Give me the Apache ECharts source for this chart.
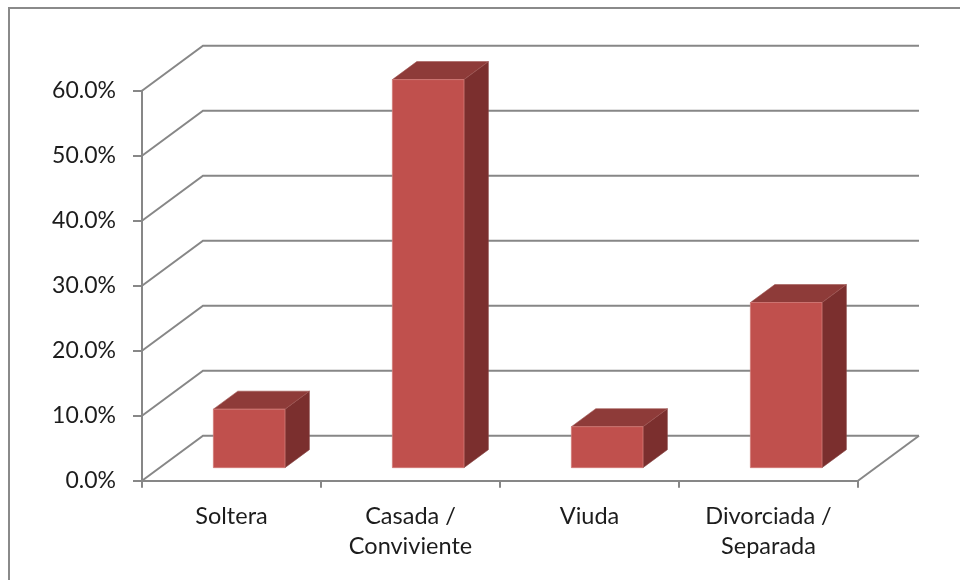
<!DOCTYPE html>
<html>
<head>
<meta charset="utf-8">
<script src="https://cdn.jsdelivr.net/npm/echarts@6/dist/echarts.min.js"></script>
<style>
  html, body { margin: 0; padding: 0; background: #fff; }
  #chart { width: 960px; height: 580px; }
</style>
</head>
<body>
<div id="chart"></div>
<script>
// Marital status distribution (percent)
const categories = ['Soltera', 'Casada /\nConviviente', 'Viuda', 'Divorciada /\nSeparada'];
const shares = [9.0, 59.7, 6.3, 25.4];
const yTicks = [0, 10, 20, 30, 40, 50, 60];

// Oblique projection of the depth axis (pixels)
const DEPTH_X = 61;
const DEPTH_Y = 45;
const BAR_FRONT = 0.29;   // depth fraction of the bar's front face
const BAR_BACK = 0.69;    // depth fraction of the bar's back face
const BAR_WIDTH = 0.40;   // share of the category band

const GRID_COLOR = '#878787';
const GRID_WIDTH = 2;
const TEXT_COLOR = '#1c1c1c';
const FONT = 'Lato';

const chart = echarts.init(document.getElementById('chart'), null, { renderer: 'canvas' });

function wallItem(params, api) {
  const v = api.value(0);
  const cs = params.coordSys;
  const y = api.coord([0, v])[1];
  const x0 = cs.x;
  const x1 = cs.x + cs.width;
  const children = [{
    type: 'polyline',
    shape: { points: [[x0, y], [x0 + DEPTH_X, y - DEPTH_Y], [x1 + DEPTH_X, y - DEPTH_Y]] },
    style: { stroke: GRID_COLOR, lineWidth: GRID_WIDTH, fill: null },
    silent: true
  }];
  if (v === 0) {
    children.push({
      type: 'line',
      shape: { x1: x1, y1: y, x2: x1 + DEPTH_X, y2: y - DEPTH_Y },
      style: { stroke: GRID_COLOR, lineWidth: GRID_WIDTH },
      silent: true
    });
  }
  return { type: 'group', children: children };
}

function barItem(params, api) {
  const idx = api.value(0);
  const val = api.value(1);
  const base = api.coord([idx, 0]);
  const top = api.coord([idx, val]);
  const w = api.size([1, 0])[0] * BAR_WIDTH;
  const fx = BAR_FRONT * DEPTH_X, fy = BAR_FRONT * DEPTH_Y;
  const bx = BAR_BACK * DEPTH_X, by = BAR_BACK * DEPTH_Y;
  const left = base[0] - w / 2;
  const right = base[0] + w / 2;
  const yb = base[1], yt = top[1];
  const front = [[left + fx, yt - fy], [right + fx, yt - fy], [right + fx, yb - fy], [left + fx, yb - fy]];
  const side = [[right + fx, yt - fy], [right + bx, yt - by], [right + bx, yb - by], [right + fx, yb - fy]];
  const lid = [[left + fx, yt - fy], [left + bx, yt - by], [right + bx, yt - by], [right + fx, yt - fy]];
  return {
    type: 'group',
    children: [
      { type: 'polygon', shape: { points: side }, style: { fill: '#7b2f2e', stroke: '#8a4a48', lineWidth: 0.6 } },
      { type: 'polygon', shape: { points: lid }, style: { fill: '#8e3b39', stroke: '#a05553', lineWidth: 0.6 } },
      { type: 'polygon', shape: { points: front }, style: { fill: '#c0504d', stroke: '#d27976', lineWidth: 0.8 } }
    ]
  };
}

chart.setOption({
  animation: false,
  backgroundColor: '#fff',
  graphic: [{
    type: 'rect',
    shape: { x: 9, y: 8, width: 960, height: 600 },
    style: { fill: null, stroke: '#8a8a8a', lineWidth: 2 },
    silent: true,
    z: 0
  }],
  grid: { left: 142, right: 102, top: 90.7, bottom: 99.3, containLabel: false },
  xAxis: {
    type: 'category',
    data: categories,
    boundaryGap: true,
    axisLine: { show: true, lineStyle: { color: GRID_COLOR, width: GRID_WIDTH } },
    axisTick: { show: true, length: 7, alignWithLabel: false, lineStyle: { color: GRID_COLOR, width: GRID_WIDTH } },
    axisLabel: { color: TEXT_COLOR, fontFamily: FONT, fontSize: 23.5, lineHeight: 30, margin: 21 },
    splitLine: { show: false }
  },
  yAxis: {
    type: 'value',
    min: 0,
    max: 60,
    interval: 10,
    axisLine: { show: true, lineStyle: { color: GRID_COLOR, width: GRID_WIDTH } },
    axisTick: { show: true, length: 9, lineStyle: { color: GRID_COLOR, width: GRID_WIDTH } },
    axisLabel: {
      color: TEXT_COLOR, fontFamily: FONT, fontSize: 23, margin: 26,
      formatter: v => v.toFixed(1) + '%'
    },
    splitLine: { show: false }
  },
  series: [
    {
      type: 'custom',
      name: 'walls',
      renderItem: wallItem,
      data: yTicks.map(v => [v]),
      encode: { y: 0 },
      silent: true,
      z: 1
    },
    {
      type: 'custom',
      name: 'Estado civil',
      renderItem: barItem,
      data: shares.map((v, i) => [i, v]),
      encode: { x: 0, y: 1 },
      z: 3
    }
  ]
});
</script>
</body>
</html>
